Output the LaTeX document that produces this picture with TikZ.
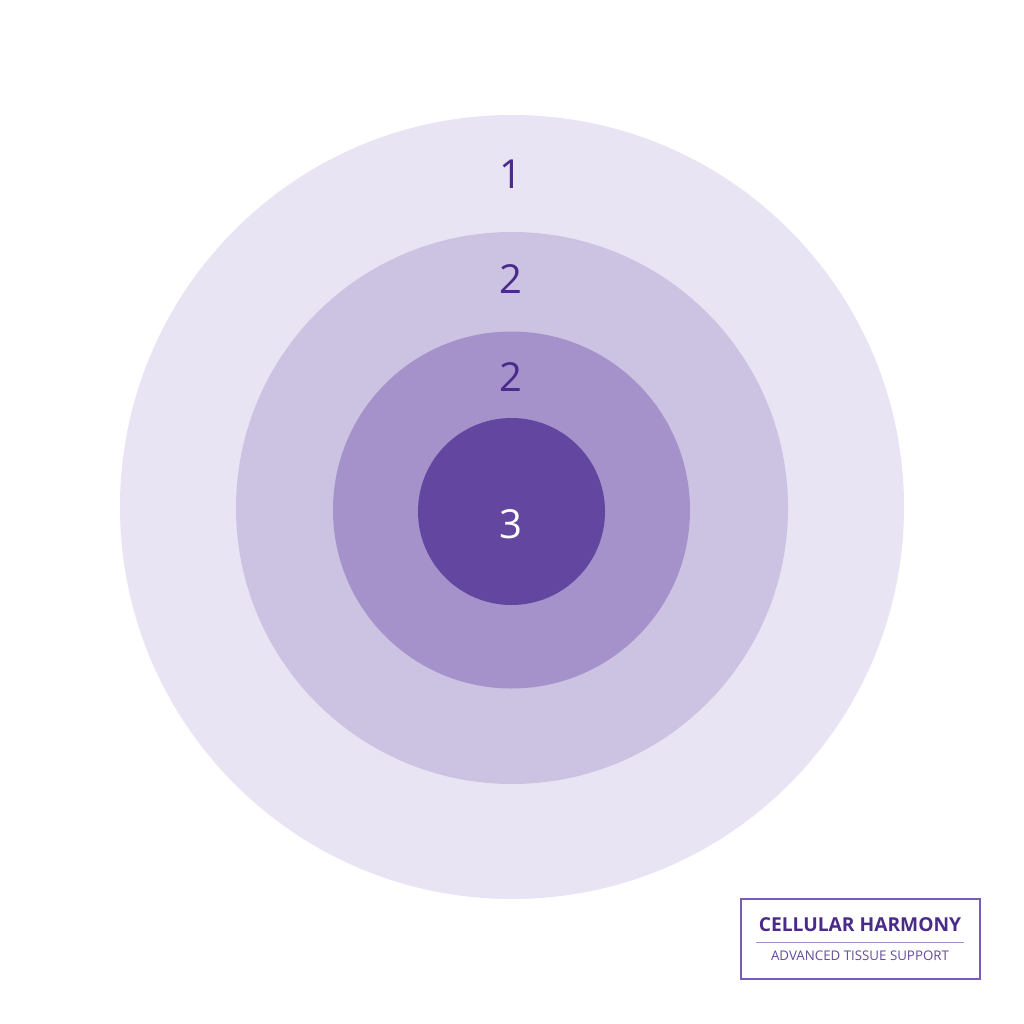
\documentclass[tikz,border=0pt]{standalone}
\usepackage{fontspec}
\setmainfont{Open Sans}
\definecolor{ring1}{HTML}{E9E4F3}
\definecolor{ring2}{HTML}{CCC3E3}
\definecolor{ring3}{HTML}{A592CB}
\definecolor{ring4}{HTML}{6246A0}
\definecolor{txt}{HTML}{4A2B8C}
\definecolor{boxc}{HTML}{7A5BB5}
\begin{document}
\begin{tikzpicture}[x=1pt,y=-1pt,
  ring/.style={circle,draw=none,inner sep=0pt},
  num/.style={font=\fontsize{40}{40}\selectfont,text=txt,inner sep=0pt,anchor=base}]
\useasboundingbox[fill=white] (0,0) rectangle (1024,1024);
\node[ring,fill=ring1,minimum size=784pt] (c1) at (512,507) {};
\node[ring,fill=ring2,minimum size=552pt] (c2) at (512,508) {};
\node[ring,fill=ring3,minimum size=357pt] (c3) at (511.5,510) {};
\node[ring,fill=ring4,minimum size=187pt] (c4) at (511.5,511.5) {};
\node[num] (n1) at (511,189) {1};
\node[num] (n2) at (511,293) {2};
\node[num] (n3) at (511,391) {2};
\node[num,text=white] (n4) at (511,538) {3};
\node[draw=boxc,line width=1.5pt,minimum width=239pt,minimum height=80pt,inner sep=0pt] (box) at (860.5,939) {};
\node[font=\fontsize{19.2}{19.2}\selectfont\bfseries,text=txt,inner sep=0pt] (t1) at (860,925) {CELLULAR HARMONY};
\coordinate (la) at (756,942);
\coordinate (lb) at (964,942);
\draw[boxc!70,line width=1pt] (la) -- (lb);
\node[font=\fontsize{13.3}{13.3}\selectfont,text=txt!85,inner sep=0pt] (t2) at (860,956) {ADVANCED TISSUE SUPPORT};
\end{tikzpicture}
\end{document}
